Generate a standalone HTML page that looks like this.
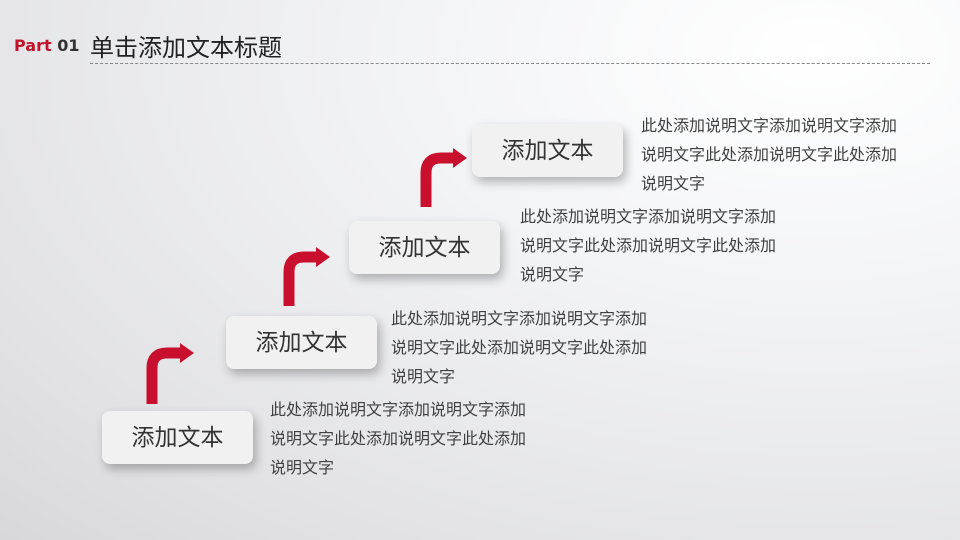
<!DOCTYPE html>
<html><head><meta charset="utf-8"><style>
body{margin:0}
.pg{position:relative;width:960px;height:540px;overflow:hidden;font-family:"Liberation Sans","Noto Sans CJK SC",sans-serif;
background:radial-gradient(ellipse at 85% 10%,#ffffff 0%,#f3f4f6 35%,#e2e2e4 80%,#d8d8da 100%);}
.box{position:absolute;width:151px;height:53px;background:#f1f1f1;border-radius:8px;box-shadow:3px 5px 10px rgba(0,0,0,.28);
font-size:23px;color:#333;text-align:center;line-height:53px}
.t{position:absolute;font-size:16px;color:#404040;line-height:29px;white-space:nowrap}
</style></head><body><div class="pg">
<div style="position:absolute;left:14px;top:36px;font-size:16px;font-weight:bold;color:#c0132a;font-family:'DejaVu Sans',sans-serif">Part <span style="color:#333">01</span></div>
<div style="position:absolute;left:90px;top:28px;font-size:24px;color:#222">单击添加文本标题</div>
<div style="position:absolute;left:90px;top:63px;width:840px;border-top:1px dashed #888"></div>
<svg width="960" height="540" style="position:absolute;left:0;top:0">
<g fill="none" stroke="#c8102e" stroke-width="11">
<path d="M152 404 V368 Q152 353 167 353 H182"/>
<path d="M289 306 V272 Q289 257 304 257 H318"/>
<path d="M426 207 V173 Q426 158 441 158 H455"/>
</g>
<g fill="#c8102e">
<polygon points="180,343 194,353 180,363"/>
<polygon points="316,247 330,257 316,267"/>
<polygon points="453,148 467,158 453,168"/>
</g>
</svg>
<div class="box" style="left:102px;top:411px">添加文本</div>
<div class="box" style="left:226px;top:316px">添加文本</div>
<div class="box" style="left:349px;top:221px">添加文本</div>
<div class="box" style="left:472px;top:124px">添加文本</div>
<div class="t" style="left:270px;top:396px">此处添加说明文字添加说明文字添加<br>说明文字此处添加说明文字此处添加<br>说明文字</div>
<div class="t" style="left:391px;top:305px">此处添加说明文字添加说明文字添加<br>说明文字此处添加说明文字此处添加<br>说明文字</div>
<div class="t" style="left:520px;top:203px">此处添加说明文字添加说明文字添加<br>说明文字此处添加说明文字此处添加<br>说明文字</div>
<div class="t" style="left:641px;top:112px">此处添加说明文字添加说明文字添加<br>说明文字此处添加说明文字此处添加<br>说明文字</div>
</div></body></html>
